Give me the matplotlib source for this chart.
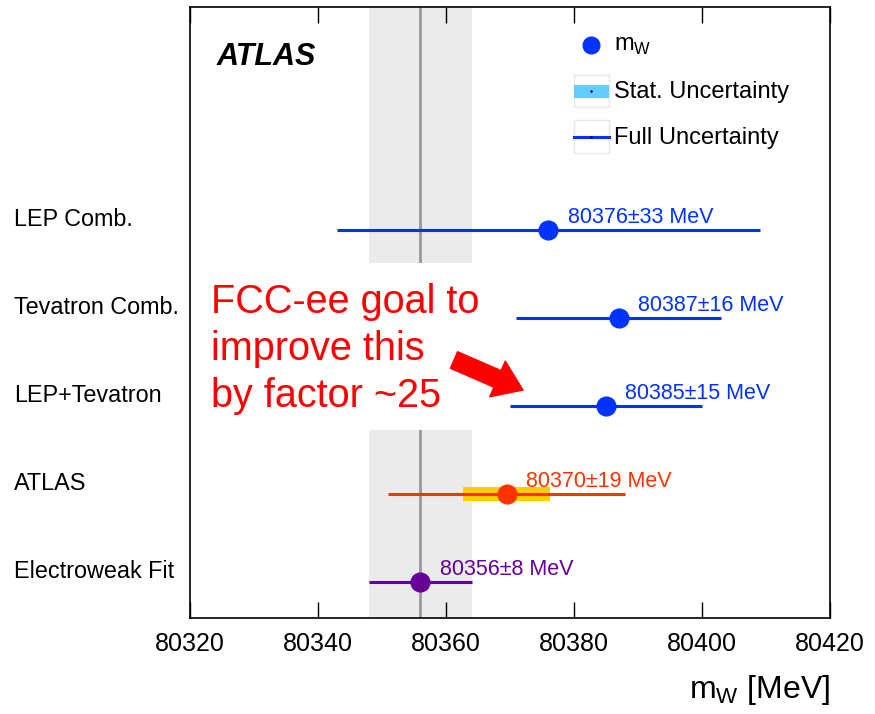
import matplotlib
matplotlib.use("Agg")
import matplotlib.pyplot as plt
from matplotlib.transforms import blended_transform_factory
from matplotlib.patches import Rectangle

FONT = ['Liberation Sans', 'DejaVu Sans']

labels = ["LEP Comb.", "Tevatron Comb.", "LEP+Tevatron", "ATLAS", "Electroweak Fit"]
values = [80376, 80387, 80385, 80369.5, 80356]
full_unc = [33, 16, 15, 18.5, 8]
stat_unc = [None, None, None, 6.8, None]
colors = ["#0033ff", "#0033ff", "#0033ff", "#ff3300", "#660099"]
value_texts = ["80376±33 MeV", "80387±16 MeV", "80385±15 MeV", "80370±19 MeV", "80356±8 MeV"]
ewfit_center = 80356
ewfit_band = 8
xticks = [80320, 80340, 80360, 80380, 80400, 80420]

fig = plt.figure(figsize=(8.75, 7.14), dpi=100)
ax = fig.add_axes([190/875, 96/714, 640/875, 611/714])
ax.set_xlim(80320, 80420)
ax.set_ylim(0.59, 7.53)

ypos = [5, 4, 3, 2, 1]

# grey band (EW fit), interrupted by the annotation box
ax.axvspan(ewfit_center - ewfit_band, ewfit_center + ewfit_band, color="#ebebeb", zorder=0, lw=0)
ax.axvline(ewfit_center, color="#999999", lw=2, zorder=1)
ax.add_patch(Rectangle((80320, 2.727), 80369 - 80320, 4.625 - 2.727, facecolor="white",
                       edgecolor="none", zorder=2))

for y, v, fu, su, c, t in zip(ypos, values, full_unc, stat_unc, colors, value_texts):
    if su is not None:
        ax.add_patch(Rectangle((v - su, y - 0.08), 2 * su, 0.16, facecolor="#ffcc00",
                               edgecolor="none", zorder=3))
    ax.plot([v - fu, v + fu], [y, y], color=c, lw=2.2, zorder=4, solid_capstyle="butt")
    ax.plot([v], [y], "o", color=c, ms=13.5, zorder=5)
    ax.text(v + 3, y + 0.14, t, color=c, fontsize=15.5, family=FONT, va="center", ha="left", zorder=6)

# row labels
tr = blended_transform_factory(fig.transFigure, ax.transData)
for y, lab in zip(ypos, labels):
    ax.text(14/875, y + 0.12, lab, transform=tr, fontsize=16.8, family=FONT,
            ha="left", va="center", clip_on=False)

ta = ax.transAxes
def fx(px):
    return (px - 190) / 640
def fy(py):
    return (618 - py) / 611

# ATLAS label
ax.text(fx(217), fy(57), "ATLAS", transform=ta, fontsize=22,
        fontweight="bold", fontstyle="italic", family=FONT, ha="left", va="center")

# legend (drawn manually)
ax.plot([fx(591)], [fy(45)], "o", color="#0033ff", ms=12, transform=ta, clip_on=False)
ax.text(fx(614), fy(46), "m$_\\mathregular{W}$", transform=ta, fontsize=17, family=FONT, va="center")
ax.add_patch(Rectangle((fx(574), fy(107)), fx(609) - fx(574), fy(75) - fy(107), transform=ta,
                       facecolor="none", edgecolor="#e8e8e8", lw=1))
ax.add_patch(Rectangle((fx(574), fy(98)), fx(609) - fx(574), fy(85) - fy(98), transform=ta,
                       facecolor="#66ccff", edgecolor="none"))
ax.plot([fx(591)], [fy(91)], ".", color="black", ms=1.5, transform=ta)
ax.text(fx(614), fy(92), "Stat. Uncertainty", transform=ta, fontsize=17, family=FONT, va="center")
ax.add_patch(Rectangle((fx(574), fy(153)), fx(609) - fx(574), fy(120) - fy(153), transform=ta,
                       facecolor="none", edgecolor="#e8e8e8", lw=1))
ax.plot([fx(574), fx(609)], [fy(137), fy(137)], color="#0033ff", lw=2.2, transform=ta)
ax.plot([fx(591)], [fy(137)], ".", color="black", ms=1.5, transform=ta)
ax.text(fx(614), fy(138), "Full Uncertainty", transform=ta, fontsize=17, family=FONT, va="center")

# FCC-ee annotation
ax.text(fx(211), fy(349), "FCC-ee goal to\nimprove this\nby factor ~25", transform=ta,
        color="red", fontsize=28.5, family=FONT,
        ha="left", va="center", linespacing=1.31, zorder=7)
ax.annotate("", xy=(fx(523), fy(390)), xytext=(fx(454), fy(360)), xycoords=ta, textcoords=ta,
            arrowprops=dict(arrowstyle="simple,head_width=1.4,head_length=1.0,tail_width=0.65",
                            color="red", mutation_scale=20, shrinkA=0, shrinkB=0), zorder=7)

# axes styling
ax.set_yticks([])
ax.set_xticks(xticks)
ax.set_xticklabels([str(t) for t in xticks], family=FONT, fontsize=18)
ax.tick_params(axis="x", direction="in", length=11.5, width=1, top=True, bottom=True, pad=10)
ax.set_xlabel("m$_\\mathregular{W}$ [MeV]", family=FONT, fontsize=23, loc="right", labelpad=12)
for s in ax.spines.values():
    s.set_linewidth(1.2)

fig.savefig("out.png", dpi=100)
